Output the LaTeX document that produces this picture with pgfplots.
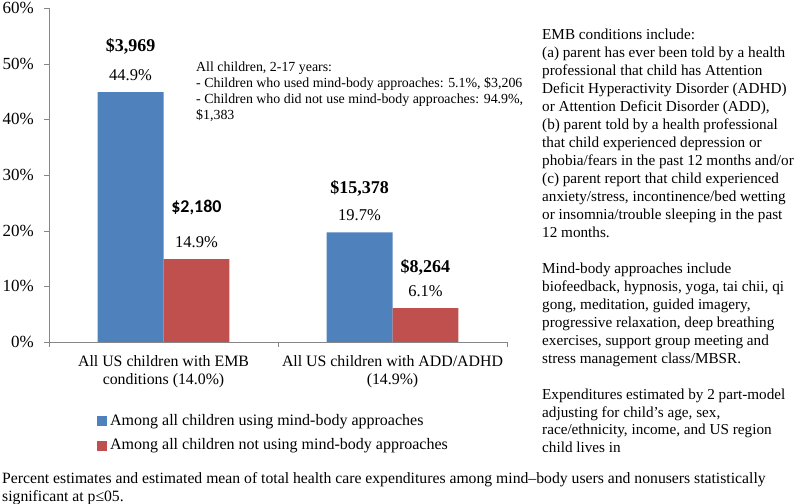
\documentclass[border=0pt]{standalone}
\usepackage{pgfplots}
\pgfplotsset{compat=1.18}
\usepackage{pgfplotstable}
\usepackage{fontspec}
\setmainfont{Liberation Serif}
\newfontfamily\calfont{Carlito}
\definecolor{barblue}{HTML}{4F81BD}
\definecolor{barred}{HTML}{C0504D}
\definecolor{axisgray}{HTML}{868686}
\newcommand\fs[2]{\fontsize{#1bp}{#2bp}\selectfont}

\pgfplotstableread{
x y
0 44.9
1 19.7
}\tblue
\pgfplotstableread{
x y
0 14.9
1 6.1
}\tred

\begin{document}
\begin{tikzpicture}
\useasboundingbox (0,0) rectangle (800bp,504bp);
\begin{axis}[
  at={(49bp,162bp)}, anchor=south west,
  scale only axis, width=458bp, height=334bp,
  xmin=-0.5, xmax=1.5, ymin=0, ymax=60,
  ybar, bar width=0.288,
  axis x line*=bottom, axis y line*=left,
  axis line style={draw=axisgray},
  tick align=outside, major tick length=5bp, minor tick length=5bp,
  ytick={0,10,...,60},
  yticklabel={\pgfmathprintnumber{\tick}\%},
  /pgf/number format/assume math mode=true,
  yticklabel style={font=\fs{17}{17}, inner sep=0pt, xshift=-10bp},
  ytick style={draw=axisgray},
  xtick={0,1},
  xticklabels={All US children with EMB\\conditions (14.0\%), All US children with ADD/ADHD\\(14.9\%)},
  xticklabel style={font=\fs{15.85}{18}, align=center, inner sep=0pt, yshift=-8bp},
  major x tick style={draw=none},
  minor xtick={-0.5,0.5,1.5},
  minor x tick style={draw=axisgray},
  clip=false,
  legend style={at={(axis description cs:0.1048,-0.2126)}, anchor=north west,
    draw=none, fill=none, inner sep=0pt, font=\fs{16}{16},
    nodes={inner sep=0pt, text height=12bp, text depth=4bp},
    row sep=8.5bp, column sep=3bp, legend cell align=left},
  legend image code/.code={\fill[#1] (0bp,-5bp) rectangle (10bp,5bp);},
]
% bars with percentage labels
\addplot[fill=barblue, draw=none, bar shift=-0.144,
  nodes near coords={\pgfmathprintnumber[fixed,fixed zerofill,precision=1]{\pgfplotspointmeta}\%},
  nodes near coords style={font=\fs{16.5}{16.5}, anchor=base, inner sep=0pt, yshift=11.4bp, text=black},
  point meta=y] table[x=x, y=y] {\tblue};
\addlegendentry{Among all children using mind-body approaches}
\addplot[fill=barred, draw=none, bar shift=0.144,
  nodes near coords={\pgfmathprintnumber[fixed,fixed zerofill,precision=1]{\pgfplotspointmeta}\%},
  nodes near coords style={font=\fs{16.5}{16.5}, anchor=base, inner sep=0pt, yshift=11.4bp, text=black},
  point meta=y] table[x=x, y=y] {\tred};
\addlegendentry{Among all children not using mind-body approaches}
% mean expenditure labels
\addplot[draw=none, fill=none, bar shift=-0.144, forget plot,
  point meta=explicit symbolic, nodes near coords,
  nodes near coords style={font=\fs{18}{18}\bfseries, anchor=base, inner sep=0pt, yshift=40.9bp, text=black}]
  coordinates {(0,44.9) [{\$3,969}]};
\addplot[draw=none, fill=none, bar shift=0.144, forget plot,
  point meta=explicit symbolic, nodes near coords,
  nodes near coords style={font=\fs{18}{18}\calfont\bfseries, anchor=base, inner sep=0pt, yshift=46.3bp, text=black}]
  coordinates {(0,14.9) [{\$2,180}]};
\addplot[draw=none, fill=none, bar shift=-0.144, forget plot,
  point meta=explicit symbolic, nodes near coords,
  nodes near coords style={font=\fs{18}{18}\bfseries, anchor=base, inner sep=0pt, yshift=38.9bp, text=black}]
  coordinates {(1,19.7) [{\$15,378}]};
\addplot[draw=none, fill=none, bar shift=0.144, forget plot,
  point meta=explicit symbolic, nodes near coords,
  nodes near coords style={font=\fs{18}{18}\bfseries, anchor=base, inner sep=0pt, yshift=35.9bp, text=black}]
  coordinates {(1,6.1) [{\$8,264}]};
\end{axis}

\node[anchor=north west, align=left, inner sep=0pt, font=\fs{13.9}{16.2}] at (196bp,504bp-61.5bp)
{All children, 2-17 years:\\
- Children who used mind-body approaches: 5.1\%, \$3,206\\
- Children who did not use mind-body approaches: 94.9\%,\\
\$1,383};

\node[anchor=north west, align=left, inner sep=0pt, font=\fs{15.2}{18}] at (542bp,504bp-28.5bp)
{EMB conditions include:\\
(a) parent has ever been told by a health\\
professional that child has Attention\\
Deficit Hyperactivity Disorder (ADHD)\\
or Attention Deficit Disorder (ADD),\\
(b) parent told by a health professional\\
that child experienced depression or\\
phobia/fears in the past 12 months and/or\\
(c) parent report that child experienced\\
anxiety/stress, incontinence/bed wetting\\
or insomnia/trouble sleeping in the past\\
12 months.};

\node[anchor=north west, align=left, inner sep=0pt, font=\fs{15.2}{18}] at (542bp,504bp-263bp)
{Mind-body approaches include\\
biofeedback, hypnosis, yoga, tai chii, qi\\
gong, meditation, guided imagery,\\
progressive relaxation, deep breathing\\
exercises, support group meeting and\\
stress management class/MBSR.};

\node[anchor=north west, align=left, inner sep=0pt, font=\fs{15.2}{17.5}] at (542bp,504bp-389bp)
{Expenditures estimated by 2 part-model\\
adjusting for child’s age, sex,\\
race/ethnicity, income, and US region\\
child lives in};

\node[anchor=north west, align=left, inner sep=0pt, font=\fs{15.7}{18}] at (2bp,504bp-472bp)
{Percent estimates and estimated mean of total health care expenditures among mind--body users and nonusers statistically\\
significant at p≤05.};
\end{tikzpicture}
\end{document}
